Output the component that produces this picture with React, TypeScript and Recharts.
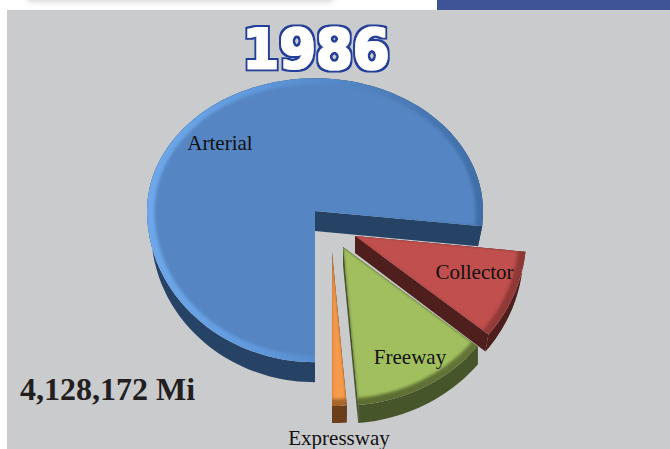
import React from "react";
import { PieChart, Pie } from "recharts";

const categories = ["Arterial", "Collector", "Freeway", "Expressway"];
const shares = [76.6, 9.2, 12.8, 1.4];
const title = "1986";
const totalLabel = "4,128,172 Mi";

const data = categories.map((name, i) => ({ name, value: shares[i] }));

type Look = {
  dx: number; dy: number; down: number; depth: number; grow: number; lowScale: number; lowDx: number;
  face: string; wall: string; rim: string[];
  lx: number; ly: number;
};
const looks: Record<string, Look> = {
  Arterial: { dx: 0, dy: 0, down: 0.9, depth: 20, grow: 1, lowScale: 0.975, lowDx: 0, face: "#5585c2", wall: "#264365", rim: ["#6fa8ea", "#5f98dc", "#4f81bd", "#3f6ea8"], lx: 220, ly: 150 },
  Collector: { dx: 40, dy: 25, down: 0.917, depth: 17, grow: 1.02, lowScale: 1, lowDx: -3, face: "#c0504d", wall: "#4e1f1d", rim: ["#c0504d", "#b84c49", "#a84441", "#8e3836"], lx: 474.5, ly: 279 },
  Freeway: { dx: 28, dy: 36, down: 0.917, depth: 18, grow: 1.03, lowScale: 1, lowDx: 0, face: "#a2bf5f", wall: "#47552a", rim: ["#5c6e32", "#5c6e32", "#5c6e32", "#66793a"], lx: 410, ly: 364 },
  Expressway: { dx: 17, dy: 41, down: 0.917, depth: 17, grow: 1, lowScale: 1, lowDx: 0, face: "#f79b4c", wall: "#6b3f1c", rim: ["#a8662c", "#a8662c", "#a8662c", "#a8662c"], lx: 339, ly: 444.5 },
};
const UP = 0.79;
const RAD = Math.PI / 180;

function App() {
  const slice = (p: any) => {
    const look = looks[p.name];
    const ox = p.cx + look.dx;
    const oy = p.cy + look.dy;
    const R = p.outerRadius * look.grow;
    const at = (deg: number, s: number, low = false) => {
      const sn = Math.sin(deg * RAD);
      const xs = low ? s * look.lowScale : s;
      return [
        ox + R * xs * Math.cos(deg * RAD) + (low ? look.lowDx : 0),
        oy - sn * R * s * (sn > 0 ? UP : look.down) + (low ? look.depth : 0),
      ];
    };
    const arc = (s: number, low = false) => {
      const pts: number[][] = [];
      const n = Math.max(4, Math.ceil(Math.abs(p.endAngle - p.startAngle) / 2));
      for (let i = 0; i <= n; i++) pts.push(at(p.startAngle + ((p.endAngle - p.startAngle) * i) / n, s, low));
      return pts;
    };
    const d = (pts: number[][]) => "M" + pts.map((q) => q[0].toFixed(1) + " " + q[1].toFixed(1)).join("L") + "Z";
    const apex = [ox, oy];
    const apexLow = [ox, oy + look.depth];
    const rim = arc(1);
    const rimLow = arc(1, true);
    const id = p.name;
    const x0 = p.cx - p.outerRadius;
    const x1 = p.cx + p.outerRadius + look.dx;
    return (
      <g>
        <defs>
          <linearGradient id={"rim" + id} gradientUnits="userSpaceOnUse" x1={x0} x2={x1} y1={0} y2={0}>
            {look.rim.map((c, i) => <stop key={i} offset={i / (look.rim.length - 1)} stopColor={c} />)}
          </linearGradient>
          <clipPath id={"clip" + id}><path d={d([apex, ...rim])} /></clipPath>
          <filter id={"soft" + id} x="-20%" y="-20%" width="140%" height="140%">
            <feGaussianBlur stdDeviation={1.6} />
          </filter>
        </defs>
        <path d={d([...rim, ...[...rimLow].reverse()])} fill={look.wall} />
        <path d={d([apex, rim[0], rimLow[0], apexLow])} fill={look.wall} />
        <path d={d([apex, rim[rim.length - 1], rimLow[rimLow.length - 1], apexLow])} fill={look.wall} />
        <path d={d([apex, ...rim])} fill={"url(#rim" + id + ")"} />
        <g clipPath={"url(#clip" + id + ")"}>
          <path d={d([apex, ...arc(0.955)])} fill={look.face} filter={"url(#soft" + id + ")"} />
        </g>
      </g>
    );
  };

  const labelText = (p: any) => {
    const look = looks[p.name];
    return (
      <text x={look.lx} y={look.ly} textAnchor="middle" fontFamily="'Liberation Serif'" fontSize={21} fill="#111">
        {p.name}
      </text>
    );
  };

  return (
    <div style={{ position: "fixed", left: 0, top: 0, width: 670, height: 449, overflow: "hidden", background: "#fff" }}>
      <div style={{ position: "absolute", left: 28, top: -12, width: 305, height: 12, boxShadow: "0 1px 6px #ccc" }} />
      <div style={{ position: "absolute", left: 437, top: 0, width: 233, height: 10, background: "#3f5497" }} />
      <div style={{ position: "absolute", left: 7, top: 10, width: 663, height: 439, background: "#cacbcd" }} />
      <div style={{ position: "absolute", left: 0, top: 0 }}>
        <PieChart width={670} height={449} margin={{ top: 0, right: 0, bottom: 0, left: 0 }}>
          <defs>
            <filter id="wordart" x="-10%" y="-20%" width="120%" height="140%">
              <feMorphology in="SourceAlpha" operator="dilate" radius={3} result="outer" />
              <feFlood floodColor="#22409a" />
              <feComposite in2="outer" operator="in" result="blue" />
              <feMorphology in="SourceAlpha" operator="dilate" radius={1.2} result="inner" />
              <feFlood floodColor="#ffffff" />
              <feComposite in2="inner" operator="in" result="white" />
              <feMerge>
                <feMergeNode in="blue" />
                <feMergeNode in="white" />
              </feMerge>
            </filter>
          </defs>
          <Pie
            data={data} dataKey="value" nameKey="name" cx={315} cy={211} innerRadius={0} outerRadius={168}
            startAngle={270} endAngle={-90} stroke="none" isAnimationActive={false} legendType="none"
            shape={(p: any) => (p.name === "Collector" ? <g /> : slice(p))}
          />
          <Pie
            data={data} dataKey="value" nameKey="name" cx={315} cy={211} innerRadius={0} outerRadius={168}
            startAngle={270} endAngle={-90} stroke="none" isAnimationActive={false} legendType="none"
            label={labelText} labelLine={false}
            shape={(p: any) => (p.name === "Collector" ? slice(p) : <g />)}
          />
          <text x={316} y={68} textAnchor="middle" fontFamily="'DejaVu Sans'" fontWeight="bold" fontSize={56}
            textLength={147} lengthAdjust="spacingAndGlyphs" fill="#fff" filter="url(#wordart)">
            {title}
          </text>
          <text x={20} y={400} fontFamily="'Liberation Serif'" fontWeight="bold" fontSize={32} fill="#231f20">
            {totalLabel}
          </text>
        </PieChart>
      </div>
    </div>
  );
}

export default App;
